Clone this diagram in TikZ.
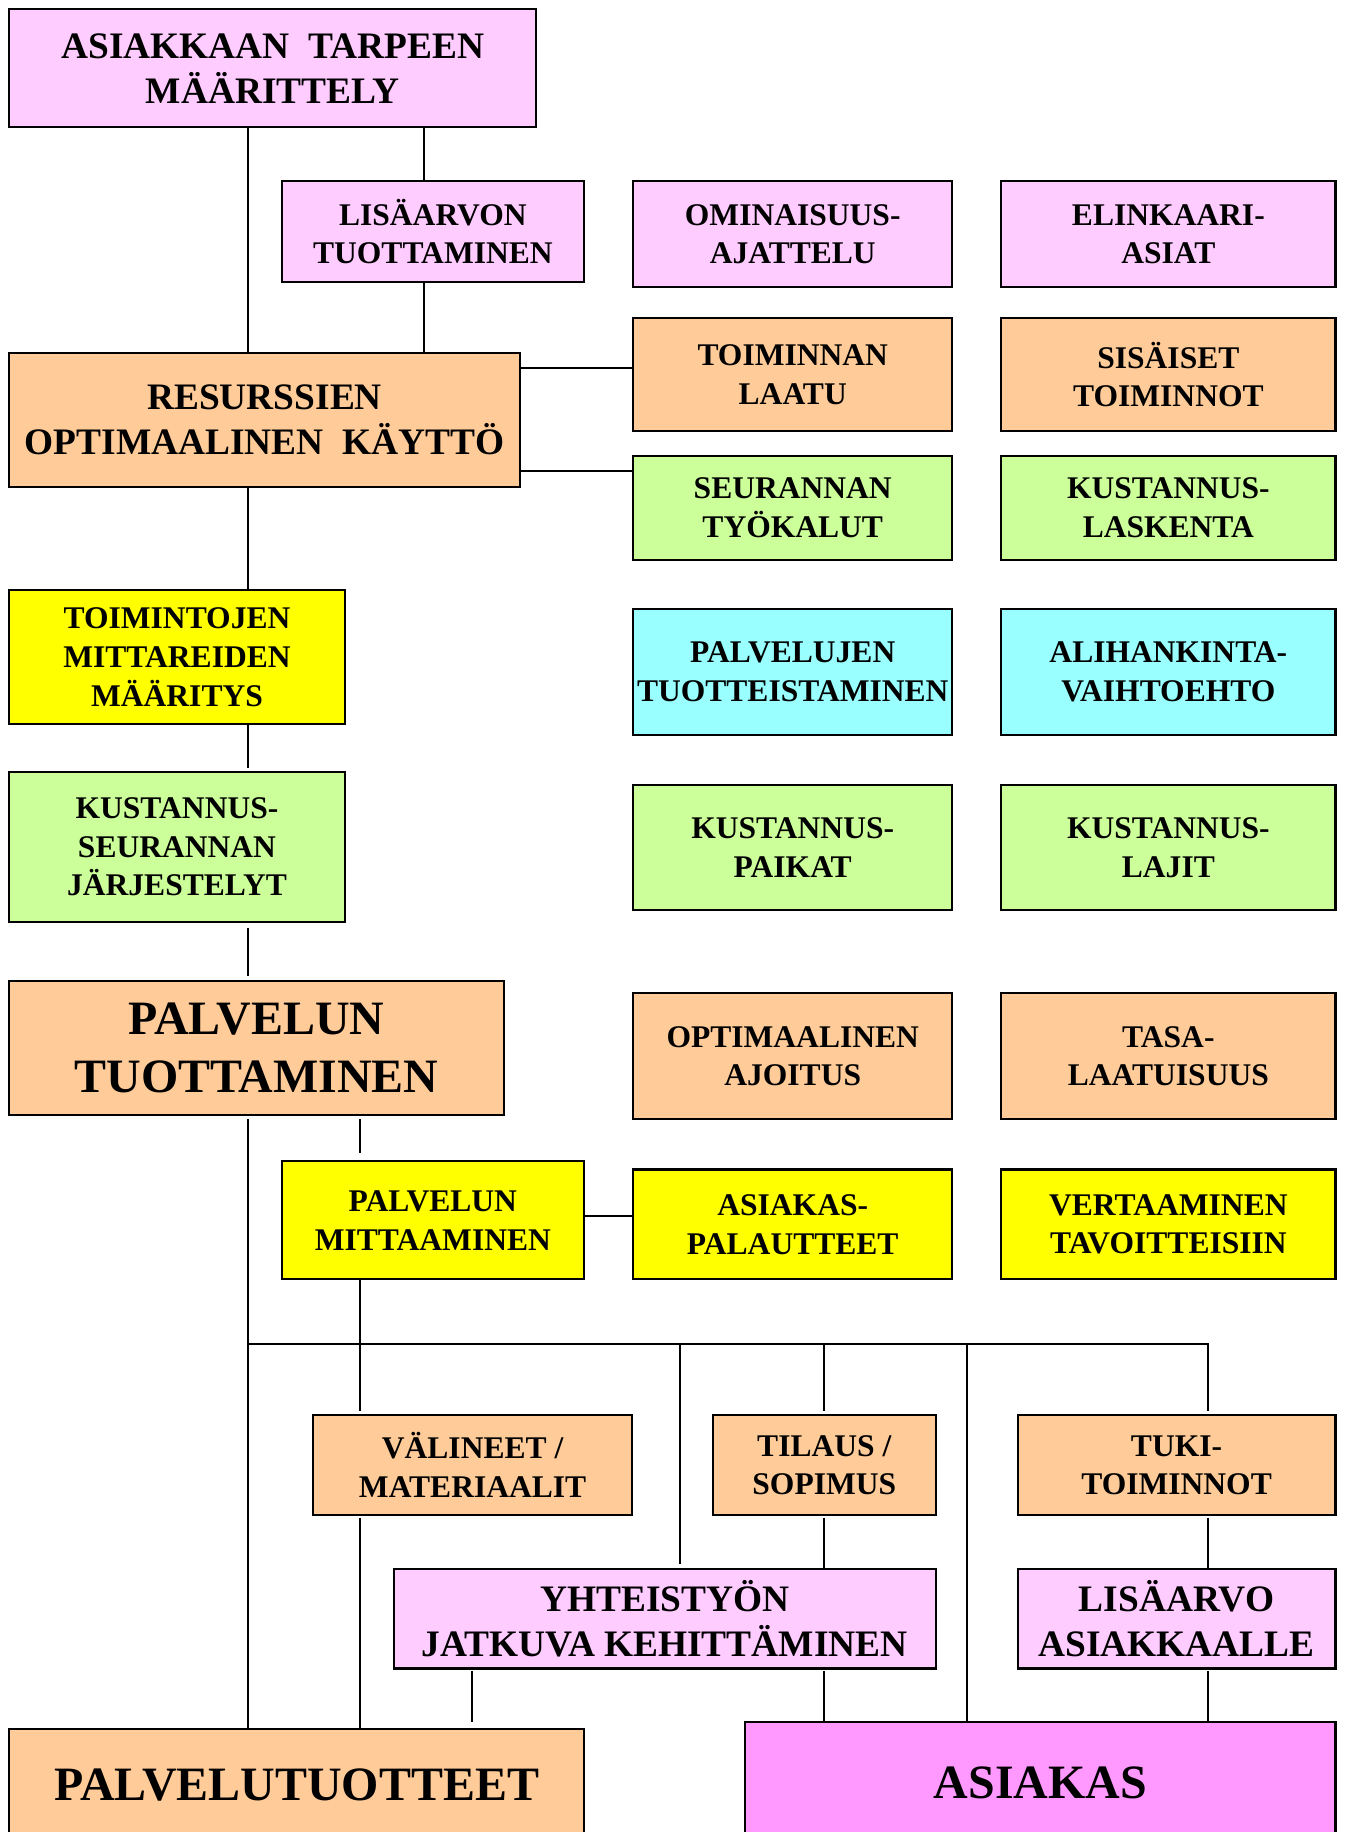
\documentclass[tikz,border=0pt]{standalone}
\usepackage{fontspec}
\setmainfont{Liberation Serif}
\definecolor{pinkbox}{HTML}{FFCCFF}
\definecolor{orangebox}{HTML}{FFCC99}
\definecolor{greenbox}{HTML}{CCFF99}
\definecolor{yellowbox}{HTML}{FFFF00}
\definecolor{cyanbox}{HTML}{99FFFF}
\definecolor{magentabox}{HTML}{FF99FF}
\begin{document}
\begin{tikzpicture}[x=1pt,y=-1pt,
  box/.style={draw=black, line width=1.8pt, inner sep=0pt, outer sep=0pt,
    align=center, font=\bfseries\fontsize{27}{33}\selectfont},
  bigtext/.style={font=\bfseries\fontsize{32}{38.5}\selectfont},
  hugetext/.style={font=\bfseries\fontsize{41}{50}\selectfont},
  pinkfill/.style={fill=pinkbox},
  orangefill/.style={fill=orangebox},
  greenfill/.style={fill=greenbox},
  yellowfill/.style={fill=yellowbox},
  cyanfill/.style={fill=cyanbox},
  magentafill/.style={fill=magentabox},
  link/.style={draw=black, line width=1.8pt}]

% page area
\path[fill=white, use as bounding box] (0,0) rectangle (1151,1568);

% column positions of the vertical connectors, rows of the horizontal ones
\coordinate (xa) at (212,0);
\coordinate (xb) at (363,0);
\coordinate (xc) at (308,0);
\coordinate (xd) at (404,0);
\coordinate (xe) at (582,0);
\coordinate (xf) at (705,0);
\coordinate (xg) at (828,0);
\coordinate (ya) at (0,315);
\coordinate (yb) at (0,403);
\coordinate (yc) at (0,1041);
\coordinate (busL) at (212,1150);
\coordinate (busR) at (1034,1150);

% ---- boxes ----
\node[box,pinkfill,bigtext,minimum width=451pt,minimum height=101pt] (tarve) at (233.5,58.5) {ASIAKKAAN~~TARPEEN\\MÄÄRITTELY};
\node[box,pinkfill,minimum width=259pt,minimum height=86pt] (lisarvon) at (370.5,198) {LISÄARVON\\TUOTTAMINEN};
\node[box,pinkfill,minimum width=273pt,minimum height=91pt] (ominais) at (678.5,200.5) {OMINAISUUS-\\AJATTELU};
\node[box,pinkfill,minimum width=286pt,minimum height=91pt] (elinkaari) at (1000,200.5) {ELINKAARI-\\ASIAT};

\node[box,orangefill,bigtext,minimum width=437pt,minimum height=115pt] (resurs) at (226.5,359.5) {RESURSSIEN\\OPTIMAALINEN~~KÄYTTÖ};
\node[box,orangefill,minimum width=273pt,minimum height=97pt] (laatu) at (678.5,320.5) {TOIMINNAN\\LAATU};
\node[box,orangefill,minimum width=286pt,minimum height=97pt] (sisaiset) at (1000,320.5) {SISÄISET\\TOIMINNOT};

\node[box,greenfill,minimum width=273pt,minimum height=89pt] (tyokalut) at (678.5,434.5) {SEURANNAN\\TYÖKALUT};
\node[box,greenfill,minimum width=286pt,minimum height=89pt] (laskenta) at (1000,434.5) {KUSTANNUS-\\LASKENTA};

\node[box,yellowfill,minimum width=287pt,minimum height=115pt] (mittarit) at (151.5,562.5) {TOIMINTOJEN\\MITTAREIDEN\\MÄÄRITYS};
\node[box,cyanfill,minimum width=273pt,minimum height=108pt] (tuotteist) at (678.5,575) {PALVELUJEN\\TUOTTEISTAMINEN};
\node[box,cyanfill,minimum width=286pt,minimum height=108pt] (alihank) at (1000,575) {ALIHANKINTA-\\VAIHTOEHTO};

\node[box,greenfill,minimum width=287pt,minimum height=128pt] (jarjest) at (151.5,725) {KUSTANNUS-\\SEURANNAN\\JÄRJESTELYT};
\node[box,greenfill,minimum width=273pt,minimum height=107pt] (paikat) at (678.5,725.5) {KUSTANNUS-\\PAIKAT};
\node[box,greenfill,minimum width=286pt,minimum height=107pt] (lajit) at (1000,725.5) {KUSTANNUS-\\LAJIT};

\node[box,orangefill,hugetext,minimum width=423pt,minimum height=114pt] (tuotto) at (219.5,897) {PALVELUN\\TUOTTAMINEN};
\node[box,orangefill,minimum width=273pt,minimum height=108pt] (ajoitus) at (678.5,904) {OPTIMAALINEN\\AJOITUS};
\node[box,orangefill,minimum width=286pt,minimum height=108pt] (tasalaatu) at (1000,904) {TASA-\\LAATUISUUS};

\node[box,yellowfill,minimum width=259pt,minimum height=101pt] (mittaus) at (370.5,1044.5) {PALVELUN\\MITTAAMINEN};
\node[box,yellowfill,minimum width=273pt,minimum height=94pt] (palaute) at (678.5,1048) {ASIAKAS-\\PALAUTTEET};
\node[box,yellowfill,minimum width=286pt,minimum height=94pt] (vertaus) at (1000,1048) {VERTAAMINEN\\TAVOITTEISIIN};

\node[box,orangefill,minimum width=273pt,minimum height=86pt] (valineet) at (404.5,1254) {VÄLINEET /\\MATERIAALIT};
\node[box,orangefill,minimum width=191pt,minimum height=86pt] (tilaus) at (705.5,1254) {TILAUS /\\SOPIMUS};
\node[box,orangefill,minimum width=272pt,minimum height=86pt] (tuki) at (1007,1254) {TUKI-\\TOIMINNOT};

\node[box,pinkfill,bigtext,minimum width=464pt,minimum height=85pt] (yhteistyo) at (569,1385.5) {YHTEISTYÖN\\JATKUVA KEHITTÄMINEN};
\node[box,pinkfill,bigtext,minimum width=272pt,minimum height=85pt] (lisarvo) at (1007,1385.5) {LISÄARVO\\ASIAKKAALLE};

\node[box,orangefill,hugetext,minimum width=492pt,minimum height=96pt] (tuotteet) at (254,1528) {PALVELUTUOTTEET};
\node[box,magentafill,hugetext,minimum width=505pt,minimum height=104pt] (asiakas) at (890.5,1526) {ASIAKAS};

% ---- connectors ----
\draw[link] (tarve.south -| xa) -- (resurs.north -| xa);
\draw[link] (tarve.south -| xb) -- (lisarvon.north -| xb);
\draw[link] (lisarvon.south -| xb) -- (resurs.north -| xb);
\draw[link] (resurs.east |- ya) -- (laatu.west |- ya);
\draw[link] (resurs.east |- yb) -- (tyokalut.west |- yb);
\draw[link] (resurs.south -| xa) -- (mittarit.north -| xa);
\draw[link, shorten >=4pt] (mittarit.south -| xa) -- (jarjest.north -| xa);
\draw[link, shorten <=5pt, shorten >=5pt] (jarjest.south -| xa) -- (tuotto.north -| xa);
\draw[link, shorten <=4pt] (tuotto.south -| xa) -- (tuotteet.north -| xa);
\draw[link, shorten <=4pt, shorten >=7pt] (tuotto.south -| xc) -- (mittaus.north -| xc);
\draw[link] (mittaus.east |- yc) -- (palaute.west |- yc);
\draw[link, shorten >=3pt] (mittaus.south -| xc) -- (valineet.north -| xc);
\draw[link, shorten <=2pt] (valineet.south -| xc) -- (tuotteet.north -| xc);
\draw[link, shorten <=2pt, shorten >=6pt] (yhteistyo.south -| xd) -- (tuotteet.north -| xd);

% common bus below the measuring box
\draw[link, shorten >=3pt] (busL) -- (busR) -- (tuki.north -| busR);
\draw[link, shorten >=4pt] (busL -| xe) -- (yhteistyo.north -| xe);
\draw[link, shorten >=3pt] (busL -| xf) -- (tilaus.north -| xf);
\draw[link] (busL -| xg) -- (asiakas.north -| xg);
\draw[link, shorten <=2pt] (tilaus.south -| xf) -- (yhteistyo.north -| xf);
\draw[link, shorten <=2pt] (yhteistyo.south -| xf) -- (asiakas.north -| xf);
\draw[link, shorten <=2pt] (tuki.south -| busR) -- (lisarvo.north -| busR);
\draw[link, shorten <=2pt] (lisarvo.south -| busR) -- (asiakas.north -| busR);
\end{tikzpicture}
\end{document}
